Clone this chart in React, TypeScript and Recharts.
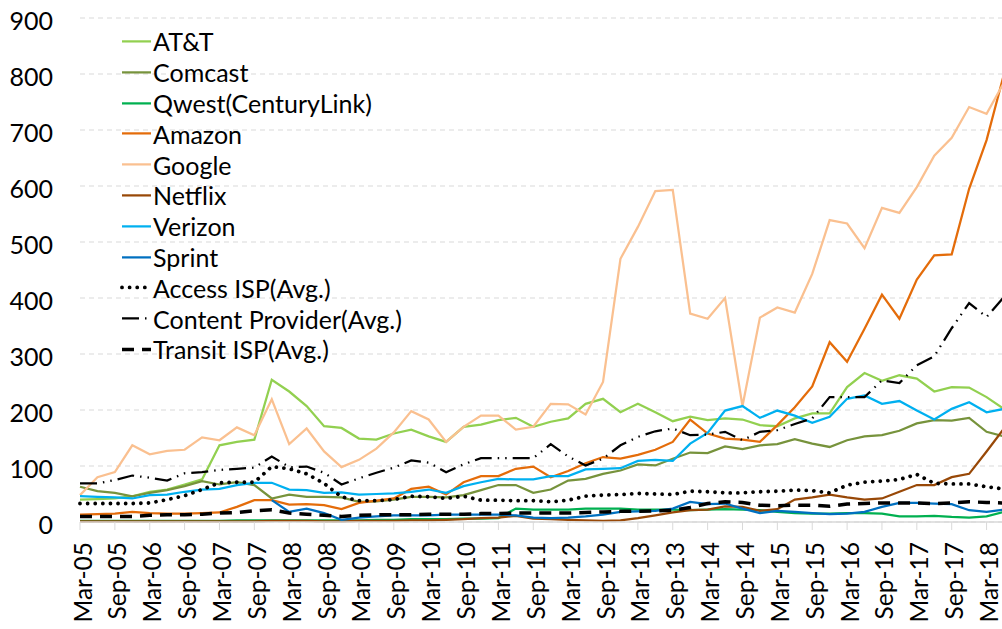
import { LineChart, Line, XAxis, YAxis, CartesianGrid, Legend } from 'recharts';

const quarters = [
  'Mar-05', 'Jun-05', 'Sep-05', 'Dec-05', 'Mar-06', 'Jun-06', 'Sep-06', 'Dec-06',
  'Mar-07', 'Jun-07', 'Sep-07', 'Dec-07', 'Mar-08', 'Jun-08', 'Sep-08', 'Dec-08',
  'Mar-09', 'Jun-09', 'Sep-09', 'Dec-09', 'Mar-10', 'Jun-10', 'Sep-10', 'Dec-10',
  'Mar-11', 'Jun-11', 'Sep-11', 'Dec-11', 'Mar-12', 'Jun-12', 'Sep-12', 'Dec-12',
  'Mar-13', 'Jun-13', 'Sep-13', 'Dec-13', 'Mar-14', 'Jun-14', 'Sep-14', 'Dec-14',
  'Mar-15', 'Jun-15', 'Sep-15', 'Dec-15', 'Mar-16', 'Jun-16', 'Sep-16', 'Dec-16',
  'Mar-17', 'Jun-17', 'Sep-17', 'Dec-17', 'Mar-18', 'Jun-18',
];

const yTicks = [0, 100, 200, 300, 400, 500, 600, 700, 800, 900];

const att = [
  40, 41, 42, 46, 54, 58, 67, 76, 137, 143, 147, 254, 233, 207, 171, 168, 149, 147,
  158, 165, 153, 143, 170, 174, 182, 186, 170, 179, 185, 211, 220, 196, 211, 196, 180, 188,
  182, 185, 183, 173, 171, 185, 194, 194, 241, 266, 252, 262, 256, 233, 241, 240, 223, 202,
];
const comcast = [
  63, 55, 52, 46, 52, 57, 64, 73, 67, 71, 66, 42, 49, 45, 45, 44, 36, 37,
  40, 45, 45, 44, 48, 57, 66, 66, 52, 58, 74, 77, 86, 92, 103, 101, 113, 124,
  123, 135, 130, 137, 139, 148, 140, 134, 146, 153, 155, 163, 176, 182, 181, 186, 161, 153,
];
const qwest = [
  2, 2, 2, 2, 2, 2, 2, 2, 2, 3, 3, 3, 3, 3, 3, 3, 3, 4,
  4, 5, 5, 5, 6, 6, 7, 24, 22, 22, 22, 24, 24, 24, 22, 22, 22, 21,
  22, 23, 22, 21, 18, 16, 15, 15, 16, 16, 15, 10, 10, 11, 9, 8, 10, 18,
];
const amazon = [
  13, 14, 15, 18, 16, 15, 15, 16, 17, 27, 39, 39, 31, 32, 30, 23, 34, 38,
  42, 59, 63, 49, 71, 82, 82, 95, 99, 80, 91, 105, 116, 113, 120, 129, 143, 183,
  158, 149, 147, 143, 173, 205, 242, 321, 286, 345, 406, 363, 433, 476, 478, 595, 682, 800,
];
const google = [
  48, 80, 89, 137, 121, 127, 129, 151, 146, 169, 155, 219, 139, 167, 126, 98, 111, 131,
  160, 198, 183, 143, 170, 190, 190, 165, 170, 211, 210, 192, 250, 470, 527, 591, 593, 372,
  363, 400, 207, 365, 383, 374, 443, 539, 533, 489, 561, 552, 598, 654, 686, 741, 729, 785,
];
const netflix = [
  1, 1, 1, 1, 1, 1, 1, 1, 1, 1, 1, 2, 2, 2, 1, 1, 2, 2,
  2, 3, 3, 4, 5, 7, 8, 11, 6, 5, 4, 3, 2, 3, 7, 12, 17, 21,
  22, 28, 27, 20, 23, 40, 44, 49, 44, 40, 42, 54, 66, 66, 80, 86, 126, 167,
];
const verizon = [
  46, 45, 44, 42, 48, 49, 54, 58, 59, 66, 70, 70, 58, 57, 52, 53, 49, 50,
  51, 54, 58, 52, 64, 71, 77, 76, 76, 82, 82, 94, 95, 96, 109, 111, 109, 140,
  159, 199, 207, 186, 199, 190, 177, 188, 220, 226, 211, 216, 199, 183, 202, 214, 196, 202,
];
const sprint = [
  null, null, null, null, null, null, null, null, null, null, null, 39, 18, 24, 16, 4, 8, 10,
  12, 12, 12, 13, 13, 13, 13, 12, 8, 7, 8, 10, 13, 18, 19, 20, 24, 36,
  32, 33, 24, 16, 20, 18, 16, 14, 15, 18, 27, 34, 34, 33, 32, 21, 18, 22,
];
const accessIsp = [
  33, 33, 33, 33, 34, 40, 47, 58, 70, 71, 71, 99, 95, 86, 69, 45, 38, 38,
  40, 46, 45, 42, 46, 39, 39, 38, 38, 36, 39, 46, 48, 49, 51, 50, 49, 55,
  54, 52, 52, 54, 55, 57, 56, 52, 66, 71, 73, 76, 85, 69, 68, 68, 63, 59,
];
const contentProvider = [
  69, 69, 75, 83, 79, 74, 87, 89, 93, 95, 97, 117, 98, 99, 88, 67, 78, 88,
  97, 110, 106, 89, 103, 114, 114, 114, 114, 139, 117, 101, 113, 137, 152, 162, 167, 155,
  156, 161, 146, 161, 164, 175, 185, 223, 223, 223, 253, 248, 280, 296, 346, 391, 366, 402,
];
const transitIsp = [
  10, 10, 10, 10, 12, 13, 13, 14, 16, 17, 20, 22, 16, 14, 12, 10, 12, 13,
  13, 13, 14, 14, 14, 15, 15, 16, 16, 16, 16, 17, 18, 19, 19, 20, 21, 26,
  33, 36, 35, 30, 29, 30, 30, 28, 32, 33, 34, 34, 34, 33, 34, 36, 35, 34,
];

const data = quarters.map((q, i) => ({
  q,
  att: att[i],
  comcast: comcast[i],
  qwest: qwest[i],
  amazon: amazon[i],
  google: google[i],
  netflix: netflix[i],
  verizon: verizon[i],
  sprint: sprint[i],
  access: accessIsp[i],
  content: contentProvider[i],
  transit: transitIsp[i],
}));

const FONT = 'Lato, "Noto Sans", sans-serif';

const series = [
  { key: 'att', name: 'AT&T', color: '#92D050', width: 2.25 },
  { key: 'comcast', name: 'Comcast', color: '#77933C', width: 2.25 },
  { key: 'qwest', name: 'Qwest(CenturyLink)', color: '#00B050', width: 2.25 },
  { key: 'amazon', name: 'Amazon', color: '#E46C0A', width: 2.25 },
  { key: 'google', name: 'Google', color: '#FAC090', width: 2.25 },
  { key: 'netflix', name: 'Netflix', color: '#984807', width: 2.25 },
  { key: 'verizon', name: 'Verizon', color: '#00B0F0', width: 2.25 },
  { key: 'sprint', name: 'Sprint', color: '#0070C0', width: 2.25 },
  { key: 'access', name: 'Access ISP(Avg.)', color: '#000', width: 3.8, dash: '0.01 7.6', cap: 'round' },
  { key: 'content', name: 'Content Provider(Avg.)', color: '#000', width: 2.25, dash: '17 6 1.5 6 1.5 6' },
  { key: 'transit', name: 'Transit ISP(Avg.)', color: '#000', width: 3.5, dash: '12 8' },
];

function XTick({ x, y, payload }: any) {
  return (
    <g transform={`translate(${x},${y + 10}) rotate(-90)`}>
      <text textAnchor="end" dy={11.5} fontFamily={FONT} fontSize={24.5} fill="#000">
        {payload.value}
      </text>
    </g>
  );
}

function YTick({ x, y, payload }: any) {
  return (
    <text x={x} y={y + 3} dy="0.36em" textAnchor="end" fontFamily={FONT} fontSize={25} fill="#000">
      {payload.value}
    </text>
  );
}

function LegendBox() {
  return (
    <div style={{ fontFamily: FONT, fontSize: 25, color: '#000' }}>
      {series.map((s) => (
        <div key={s.key} style={{ display: 'flex', alignItems: 'center', height: 30.8, whiteSpace: 'nowrap' }}>
          <svg width={33} height={30.8} style={{ display: 'block' }}>
            <line
              x1={2}
              x2={31}
              y1={15.4}
              y2={15.4}
              stroke={s.color}
              strokeWidth={s.width}
              strokeDasharray={s.dash}
              strokeLinecap={(s.cap as any) || 'butt'}
            />
          </svg>
          <span>{s.name}</span>
        </div>
      ))}
    </div>
  );
}

export default function App() {
  return (
    <div style={{ position: 'absolute', left: 0, top: 0, width: 1002, height: 629, overflow: 'hidden', background: '#fff' }}>
      <LineChart width={1010} height={629} data={data} margin={{ top: 18, right: 6, left: 20, bottom: 0 }}>
        <CartesianGrid horizontal vertical={false} stroke="#D9D9D9" strokeDasharray="5 4" />
        <XAxis
          dataKey="q"
          interval={1}
          height={107}
          tick={<XTick />}
          tickSize={8}
          tickLine={{ stroke: '#D9D9D9' }}
          axisLine={{ stroke: '#D9D9D9', strokeWidth: 1.5 }}
        />
        <YAxis
          width={60}
          domain={[0, 900]}
          ticks={yTicks}
          tick={<YTick />}
          tickSize={0}
          tickMargin={27}
          axisLine={false}
          tickLine={false}
        />
        <Legend
          layout="vertical"
          align="center"
          verticalAlign="middle"
          content={<LegendBox />}
          wrapperStyle={{ top: 26, left: 120, width: 320 }}
        />
        {series.map((s) => (
          <Line
            key={s.key}
            type="linear"
            dataKey={s.key}
            name={s.name}
            stroke={s.color}
            strokeWidth={s.width}
            strokeDasharray={s.dash}
            strokeLinecap={(s.cap as any) || 'butt'}
            dot={false}
            activeDot={false}
            isAnimationActive={false}
          />
        ))}
      </LineChart>
    </div>
  );
}
